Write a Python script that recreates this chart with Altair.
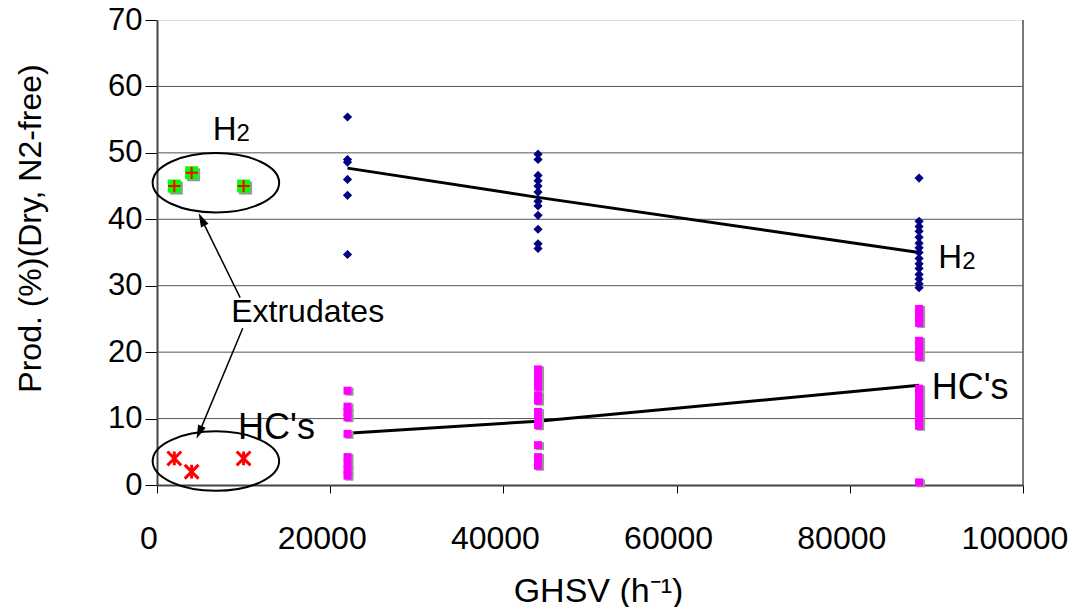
import altair as alt
import pandas as pd

# ---------------- data ----------------
h2_22 = [55.4, 49.0, 48.6, 46.0, 43.6, 34.7]
h2_44 = [49.8, 49.0, 46.6, 45.8, 45.0, 44.1, 42.7, 42.0, 40.6, 38.5, 36.3, 35.6]
h2_88 = [46.2, 39.7, 38.9, 38.2, 37.3, 36.4, 35.7, 35.0, 34.1, 33.3, 32.6, 31.7, 31.0, 30.3, 29.7]

hc_22 = [14.2, 11.8, 11.0, 10.2, 7.7, 4.2, 3.2, 2.3, 1.4]
hc_44 = [17.4, 16.5, 15.6, 14.8, 13.5, 12.7, 11.0, 10.2, 9.0, 6.0, 4.2, 3.6, 2.9]
hc_88 = [26.5, 25.8, 25.0, 24.4, 21.7, 21.0, 20.2, 19.3, 14.5, 13.8, 13.0, 12.2,
         11.5, 10.7, 10.0, 9.5, 8.9, 0.4]

ghsv_levels = [22000, 44000, 88000]
h2_trend = [47.7, 43.3, 35.0]
hc_trend = [7.8, 9.6, 15.0]

ext_ghsv = [2000, 4000, 10000]
ext_h2 = [45, 47, 45]
ext_hc = [4, 2, 4]

y_ticks = [0, 10, 20, 30, 40, 50, 60, 70]
grid_levels = [10, 20, 30, 40, 50, 60]
x_ticks = [0, 20000, 40000, 60000, 80000, 100000]
x_tick_labels = ["0", "20000", "40000", "60000", "80000", "100000"]

FONT = "Liberation Sans"

def pts(levels, groups):
    rows = []
    for g, vals in zip(levels, groups):
        for v in vals:
            rows.append({"x": g, "y": v})
    return pd.DataFrame(rows)

h2_df = pts(ghsv_levels, [h2_22, h2_44, h2_88])
hc_df = pts(ghsv_levels, [hc_22, hc_44, hc_88])
trend_h2 = pd.DataFrame({"x": ghsv_levels, "y": h2_trend})
trend_hc = pd.DataFrame({"x": ghsv_levels, "y": hc_trend})
ext_h2_df = pd.DataFrame({"x": ext_ghsv, "y": ext_h2})
ext_hc_df = pd.DataFrame({"x": ext_ghsv, "y": ext_hc})
xlab_df = pd.DataFrame({"x": x_ticks, "t": x_tick_labels})

xs = alt.Scale(domain=[0, 100000], nice=False, zero=True)
ys = alt.Scale(domain=[0, 70], nice=False)

X = alt.X("x:Q", scale=xs, axis=alt.Axis(
    values=x_ticks, labels=False,
    title="GHSV (h⁻¹)", grid=False, domainColor="#444", domainWidth=2,
    tickColor="#000", tickSize=8, tickWidth=1,
    titleFontSize=34, titleFont=FONT, titleColor="#000", titleFontWeight="normal",
    titleX=441, titleY=106, titleBaseline="middle", titleAlign="center"))
Y = alt.Y("y:Q", scale=ys, axis=alt.Axis(
    values=y_ticks, labelFlush=False, labelOverlap=False,
    title="Prod. (%)(Dry, N2-free)", grid=False,
    domainColor="#444", domainWidth=2, tickColor="#000", tickSize=12, tickWidth=1,
    labelFontSize=31, labelFont=FONT, labelColor="#000", labelPadding=3,
    titleFontSize=32, titleFont=FONT, titleColor="#000", titleFontWeight="normal",
    titleAngle=270, titleX=-127, titleY=208, titleBaseline="middle", titleAlign="center"))

base_x = alt.X("x:Q", scale=xs)
base_y = alt.Y("y:Q", scale=ys)

axes_layer = alt.Chart(trend_h2).mark_point(opacity=0).encode(x=X, y=Y)

x_labels = alt.Chart(xlab_df).mark_text(font=FONT, fontSize=32, color="#000",
                                        align="center", baseline="middle", dx=-8).encode(
    x=base_x, y=alt.value(519), text="t:N")

grid = alt.Chart(pd.DataFrame({"y": grid_levels})).mark_rule(
    color="#555", strokeWidth=1).encode(y=base_y, x=alt.value(0), x2=alt.value(866))

right_border = alt.Chart(pd.DataFrame({"x": [100000]})).mark_rule(
    color="#555", strokeWidth=1.5).encode(x=base_x, y=alt.value(0), y2=alt.value(465))

h2_pts = alt.Chart(h2_df).mark_point(shape="diamond", filled=True, color="#000080",
                                     size=85, opacity=1).encode(x=base_x, y=base_y)

hc_shadow = alt.Chart(hc_df).mark_point(shape="square", filled=True, color="#999999",
                                        size=64, opacity=1).encode(
    x=base_x, y=base_y, xOffset=alt.value(2), yOffset=alt.value(1))
hc_pts = alt.Chart(hc_df).mark_point(shape="square", filled=True, color="#FF00FF",
                                     size=64, opacity=1).encode(x=base_x, y=base_y)

lines = (alt.Chart(trend_h2).mark_line(color="#000", strokeWidth=3).encode(x=base_x, y=base_y)
         + alt.Chart(trend_hc).mark_line(color="#000", strokeWidth=3).encode(x=base_x, y=base_y))

ext_sq_shadow = alt.Chart(ext_h2_df).mark_point(shape="square", filled=True, color="#999999",
                                                size=169, opacity=1).encode(
    x=base_x, y=base_y, xOffset=alt.value(2), yOffset=alt.value(2))
ext_sq = alt.Chart(ext_h2_df).mark_point(shape="square", filled=True, color="#00FF00",
                                         size=169, opacity=1).encode(x=base_x, y=base_y)
ext_plus = alt.Chart(ext_h2_df).mark_point(shape="M -1 0 L 1 0 M 0 -1 L 0 1", filled=False,
                                           color="#FF0000", strokeWidth=2, size=150,
                                           opacity=1).encode(x=base_x, y=base_y)
ext_star = alt.Chart(ext_hc_df).mark_point(
    shape="M -1 -1 L 1 1 M -1 1 L 1 -1 M 0 -1 L 0 1", filled=False,
    color="#FF0000", strokeWidth=3, size=190, opacity=1).encode(x=base_x, y=base_y)

# annotations
ELL = ("M -1 0 C -1 -0.26 -0.552 -0.47 0 -0.47 C 0.552 -0.47 1 -0.26 1 0 "
       "C 1 0.26 0.552 0.47 0 0.47 C -0.552 0.47 -1 0.26 -1 0 Z")
ell_df = pd.DataFrame({"x": [6800, 6800], "y": [45.5, 3.6]})
ellipses = alt.Chart(ell_df).mark_point(shape=ELL, filled=False, color="#000",
                                        strokeWidth=2, size=16000, opacity=1).encode(
    x=base_x, y=base_y)

arrow_df = pd.DataFrame({"x": [9600, 9900], "y": [28.2, 23.6],
                         "x2": [5300, 5000], "y2": [39.6, 8.3], "ang": [334, 203]})
arrow_lines = alt.Chart(arrow_df).mark_rule(color="#000", strokeWidth=1.5).encode(
    x=base_x, y=base_y, x2="x2:Q", y2="y2:Q")
arrow_heads = alt.Chart(arrow_df).mark_point(shape="M 0 -1.4 L 0.6 0.6 L -0.6 0.6 Z",
                                             filled=True, color="#000",
                                             size=190, opacity=1).encode(
    x=alt.X("x2:Q", scale=xs), y=alt.Y("y2:Q", scale=ys), angle=alt.Angle("ang:Q", scale=None))

lab_df = pd.DataFrame({"x": [17400], "y": [26.0], "t": ["Extrudates"]})
labels = alt.Chart(lab_df).mark_text(font=FONT, fontSize=32, color="#000",
                                     align="center", baseline="middle").encode(
    x=base_x, y=base_y, text="t:N")

hc_lab_df = pd.DataFrame({"x": [13800, 93900], "y": [8.6, 14.6], "t": ["HC's", "HC's"]})
hc_labels = alt.Chart(hc_lab_df).mark_text(font=FONT, fontSize=36, color="#000",
                                           align="center", baseline="middle").encode(
    x=base_x, y=base_y, text="t:N")

h_df = pd.DataFrame({"x": [7800, 91600], "y": [53.5, 34.2]})
h_text = alt.Chart(h_df).mark_text(font=FONT, fontSize=33, color="#000", text="H",
                                   align="center", baseline="middle").encode(x=base_x, y=base_y)
sub_text = alt.Chart(h_df).mark_text(font=FONT, fontSize=24, color="#000", text="2",
                                     align="left", baseline="middle", dx=12, dy=4).encode(
    x=base_x, y=base_y)

chart = alt.layer(
    axes_layer, grid, right_border, lines, h2_pts, hc_shadow, hc_pts,
    ellipses, ext_sq_shadow, ext_sq, ext_plus, ext_star,
    arrow_lines, arrow_heads, labels, hc_labels, h_text, sub_text, x_labels
).properties(
    width=866, height=465,
    autosize=alt.AutoSizeParams(type="none"),
    padding={"left": 149, "top": 12, "right": 46, "bottom": 122},
).configure_view(stroke=None).configure(background="white")

chart.save("out.html", embed_options={"renderer": "svg", "actions": False})
